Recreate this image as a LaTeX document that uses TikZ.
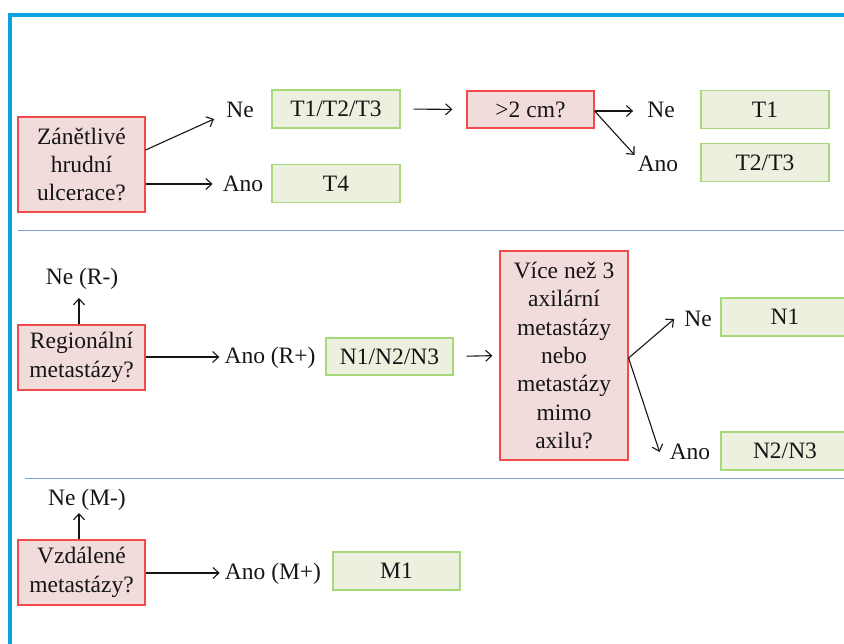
\documentclass[tikz,border=0pt]{standalone}
\usepackage{fontspec}
\setmainfont{Liberation Serif}
\usetikzlibrary{arrows.meta,calc}
\definecolor{qfill}{HTML}{F2DCDB}
\definecolor{qdraw}{HTML}{F04A4A}
\definecolor{afill}{HTML}{EBF1DE}
\definecolor{adraw}{HTML}{A6D97A}
\definecolor{frameblue}{HTML}{0AA2E2}
\definecolor{seplne}{HTML}{7BA3D6}
\definecolor{txt}{HTML}{151515}
\tikzset{
  qbox/.style={draw=qdraw, fill=qfill, line width=1.2pt, inner sep=0pt, align=center, text=txt, font=\fontsize{23.5}{28.3}\selectfont},
  abox/.style={draw=adraw, fill=afill, line width=1.2pt, inner sep=0pt, align=center, text=txt, font=\fontsize{23.5}{28.3}\selectfont, minimum width=128pt, minimum height=38pt},
  lbl/.style={inner sep=0pt, text=txt, font=\fontsize{23.5}{28.3}\selectfont},
  arr/.style={-{Straight Barb[length=6pt,width=11pt]}, line width=1.1pt, draw=txt},
}
\begin{document}
\begin{tikzpicture}[x=1pt,y=-1pt]
\useasboundingbox (0,0) rectangle (844,644);
% frame
\draw[frameblue, line width=3.2pt] (10,644) -- (10,15) -- (850,15);
% separators
\draw[seplne, line width=1pt] (18,231) -- (850,231);
\draw[seplne, line width=1pt] (25,478.5) -- (850,478.5);

% section 1
\node[qbox, minimum width=127pt, minimum height=95pt] (q1) at (81.5,164.5) {Zánětlivé\\hrudní\\ulcerace?};
\node[lbl] (ne1) at (240,110) {Ne};
\node[lbl] (ano1) at (243,184) {Ano};
\node[abox] (t123) at (336,109) {T1/T2/T3};
\node[abox] (t4) at (336,183.5) {T4};
\node[qbox, minimum width=127pt, minimum height=37pt] (q2cm) at (530.5,109.5) {>2 cm?};
\node[lbl] (ne2) at (661,110) {Ne};
\node[lbl] (ano2) at (658,164) {Ano};
\node[abox] (t1) at (765,109.5) {T1};
\node[abox] (t23) at (765,162.5) {T2/T3};

\coordinate (q1a) at ($(q1.east)+(0,-14.5)$);
\coordinate (q1b) at ($(q1.east)+(0,19.5)$);
\coordinate (ne1e) at ($(ne1.west)+(-12,9)$);
\coordinate (ano1e) at ($(ano1.west)+(-10,0)$);
\draw[arr] (q1a) -- (ne1e);
\draw[arr] (q1b) -- (ano1e);
\draw[arr, shorten <=13pt, shorten >=14pt] (t123.east) -- (q2cm.west);
\coordinate (q2s) at ($(q2cm.east)+(0,1.5)$);
\coordinate (ne2e) at ($(ne2.west)+(-14,1)$);
\coordinate (ano2e) at ($(ano2.north west)+(-3,-1)$);
\draw[arr] (q2s) -- (ne2e);
\draw[arr] (q2s) -- (ano2e);

% section 2
\node[qbox, minimum width=127pt, minimum height=65pt] (qr) at (81.5,357.5) {Regionální\\metastázy?};
\node[lbl] (ner) at (82,279) {Ne (R-)};
\node[lbl] (anor) at (270,358) {Ano (R+)};
\node[abox, minimum width=127pt, minimum height=37pt] (n123) at (389.5,356.5) {N1/N2/N3};
\node[qbox, minimum width=128pt, minimum height=209pt] (q3) at (564,355.5) {Více než 3\\axilární\\metastázy\\nebo\\metastázy\\mimo\\axilu?};
\node[lbl] (ne3) at (698,319) {Ne};
\node[lbl] (ano3) at (690,452) {Ano};
\node[abox] (n1) at (785,317) {N1};
\node[abox] (n23) at (785,451) {N2/N3};

\coordinate (qrt) at ($(qr.north)+(-2.5,0)$);
\coordinate (nerb) at (qrt |- 0,298);
\draw[arr] (qrt) -- (nerb);
\coordinate (qre) at ($(qr.east)+(0,-0.5)$);
\coordinate (anore) at ($(anor.west)+(-5,-1)$);
\draw[arr] (qre) -- (anore);
\draw[arr, shorten <=13pt, shorten >=7pt] (n123.east) -- (q3.west);
\coordinate (q3e) at ($(q3.east)+(0,2.5)$);
\coordinate (ne3e) at ($(ne3.west)+(-10,0)$);
\coordinate (ano3e) at ($(ano3.west)+(-10,0)$);
\draw[arr] (q3e) -- (ne3e);
\draw[arr] (q3e) -- (ano3e);

% section 3
\node[qbox, minimum width=127pt, minimum height=65pt] (qm) at (81.5,572.5) {Vzdálené\\metastázy?};
\node[lbl] (nem) at (87,500) {Ne (M-)};
\node[lbl] (anom) at (273,574) {Ano (M+)};
\node[abox, minimum width=127pt] (m1) at (396.5,571) {M1};
\coordinate (qmt) at ($(qm.north)+(-2.5,0)$);
\coordinate (nemb) at (qmt |- 0,513);
\draw[arr] (qmt) -- (nemb);
\coordinate (qme) at ($(qm.east)+(0,0.5)$);
\coordinate (anome) at ($(anom.west)+(-5,-1)$);
\draw[arr] (qme) -- (anome);
\end{tikzpicture}
\end{document}
